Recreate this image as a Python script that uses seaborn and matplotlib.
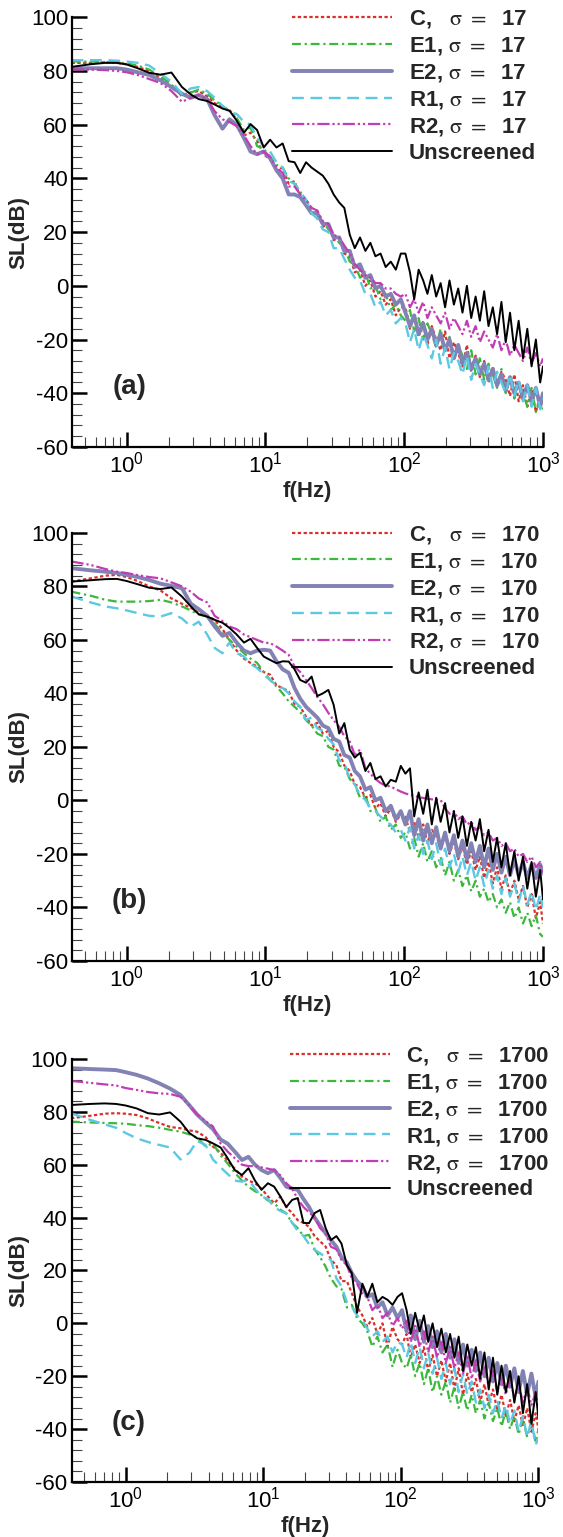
import matplotlib
matplotlib.use("Agg")
import matplotlib.pyplot as plt
import numpy as np
import pandas as pd
import seaborn as sns
from matplotlib.ticker import LogLocator, MultipleLocator, NullFormatter

# ---------------- data ----------------
freq = [0.4, 0.55, 0.7, 0.85, 1.0, 1.2, 1.45, 1.75, 2.1, 2.5,
        2.9, 3.3, 3.8, 4.3, 4.9, 5.5, 6.2, 7.0, 7.8, 8.7,
        9.7, 10.8, 12, 13.3, 14.7, 16.2, 17.8, 19.6, 21.5, 23.6,
        25.9, 28.4, 31, 34, 37, 40.5, 44, 48, 52.5, 57,
        62, 67.5, 73.5, 80, 87, 94.5, 102, 110, 118, 127,
        137, 147, 158, 170, 183, 197, 212, 228, 245, 263,
        283, 304, 327, 351, 377, 405, 435, 467, 502, 539,
        579, 622, 668, 718, 771, 828, 889, 955, 1000]

series_names = ["C", "E1", "E2", "R1", "R2", "Unscreened"]
sigmas = ["17", "170", "1700"]
panel_tags = ["(a)", "(b)", "(c)"]

# panel (a), sigma = 17
a_C = [83, 83, 83.2, 83, 82.5, 81.5, 80, 77.5, 74, 71, 72, 72.5, 70.5, 68, 66.5, 65.5, 62, 56, 57, 54, 49,
       47, 43, 44, 38, 39, 33, 32, 27, 28, 22, 23, 17, 18, 12, 11, 5, 6, 0, 2, -4, -2, -7, -5, -11, -8,
       -8, -16, -11, -19, -13, -22, -15, -20, -24, -17, -27, -21, -25, -30, -22, -32, -26, -34, -28, -36,
       -30, -38, -32, -35, -41, -33, -43, -37, -45, -39, -47, -41, -44]
a_E1 = [83.5, 83.5, 83.3, 83.2, 82.8, 82, 80.5, 78, 75, 70.5, 72, 73, 71.5, 69, 67, 65, 62.5, 58, 59, 52, 51,
        48, 45, 44, 40, 38, 35, 32, 29, 27, 24, 21, 19, 16, 14, 9, 8, 3, 5, -1, 0, -5, -3, -9, -7, -11,
        -13, -9, -17, -12, -20, -14, -18, -23, -16, -25, -19, -27, -22, -26, -31, -24, -33, -27, -35, -29,
        -33, -38, -31, -40, -34, -42, -36, -40, -45, -38, -47, -42, -46]
a_E2 = [81, 81, 81, 81, 80.5, 79.5, 78.5, 76.5, 74, 71.5, 70, 71, 69.5, 63.5, 58.5, 62, 60, 55, 50, 49, 50,
        47.5, 43, 40, 34, 34, 33, 30, 27, 27, 23, 23, 18, 18, 13, 13, 7, 8, 3, 4, -1, 0, -4, -3, -7, -5,
        -10, -15, -11, -18, -14, -20, -16, -22, -18, -24, -20, -27, -22, -29, -25, -31, -27, -33, -29, -35,
        -31, -37, -33, -39, -34, -40, -36, -42, -37, -43, -38, -45, -40]
a_R1 = [84, 84, 84, 83.8, 83.5, 83, 82, 79, 76, 71.5, 73.5, 74, 72.5, 70, 67, 64.5, 64, 61, 60, 55, 52,
        50, 46, 44, 39, 38, 35, 32, 27, 25, 21, 20, 14, 14, 10, 6, 3, 2, -3, -3, -8, -6, -11, -9, -14, -12,
        -14, -21, -16, -24, -18, -22, -27, -20, -29, -23, -31, -25, -28, -33, -26, -35, -29, -33, -37, -30,
        -38, -32, -36, -40, -33, -41, -35, -43, -37, -45, -38, -46, -42]
a_R2 = [80.5, 80.5, 80.3, 80, 79.5, 78.5, 77, 75.5, 72.5, 68.5, 70, 71, 69.5, 65, 62, 61, 59.5, 56, 52, 49, 50,
        48, 44, 42, 37, 37, 34, 32, 29, 28, 24, 23, 19, 18, 15, 12, 8, 6, 4, 3, 1, 1, -1, -1, -3, -4,
        -3, -8, -5, -10, -6, -12, -8, -11, -14, -10, -16, -12, -15, -18, -13, -19, -15, -21, -17, -20,
        -23, -18, -24, -20, -26, -22, -25, -28, -23, -29, -25, -30, -27]
a_U = [81.5, 82.5, 83, 83, 82.4, 81, 79.3, 78.6, 79.4, 74, 71.2, 69.5, 68.8, 67.5, 66, 65.2, 61.5, 57, 60.2, 58, 51.5,
       54.4, 51.5, 53, 46.4, 46, 42, 46, 44, 42.5, 41, 38, 34, 31, 29, 19, 14, 18, 13, 16, 11, 12, 7, 9, 6, 12,
       12, 5, -5, 6, 2, -3, 4, -4, 1, -8, 2, -7, -1, -10, 0, -12, -4, -13, -2, -15,
       -8, -18, -6, -21, -10, -24, -13, -27, -16, -30, -20, -36, -30]

# panel (b), sigma = 170
b_C = [81.8, 83, 84, 84.3, 83.5, 82, 80, 78.5, 75.5, 73.5, 72, 70, 69, 67.5, 64, 60, 56, 53, 51.4, 50, 48,
       47, 43, 42, 40.7, 36, 35, 31.3, 28, 29, 25, 26, 20, 18, 13, 11, 6, 5, 1, 2, -3, -1, -6, -3, -8, -5,
       -6, -12, -8, -14, -9, -16, -11, -13, -18, -12, -20, -15, -22, -17, -24, -19, -26, -21, -29, -23,
       -31, -25, -33, -28, -35, -30, -37, -32, -40, -35, -44, -38, -46]
b_E1 = [78, 76.5, 75, 74.3, 74.3, 74.3, 74.5, 75, 74, 72.5, 71, 69.5, 68.7, 66, 62.6, 60, 57.5, 55, 53, 51.4, 48,
        45, 42.6, 40, 37, 35, 33, 30, 28, 25, 24, 20, 19, 13, 12.6, 8, 6, 1, 2, -4, -3, -8, -6, -11, -9, -14,
        -12, -18, -14, -21, -16, -23, -19, -25, -21, -28, -23, -30, -26, -32, -28, -34, -30, -36, -33, -38,
        -35, -40, -37, -42, -38, -44, -40, -46, -42, -47, -43, -50, -51]
b_E2 = [86.8, 86, 85.5, 85, 84.3, 83.5, 82.4, 81, 80.2, 79.3, 73.5, 71.5, 69, 65, 61.5, 62.6, 59, 56, 55, 56, 56.3,
        56, 52, 49, 47.7, 42, 38, 35, 33, 31, 28, 27, 23, 22, 17, 16, 11, 9, 4, 5, 0, 1, -4, -2, -7, -4,
        -9, -4, -13, -7, -15, -9, -16, -10, -18, -12, -19, -13, -21, -15, -22, -16, -23, -17, -25, -18,
        -26, -20, -27, -21, -28, -22, -28, -23, -29, -24, -29, -24, -27]
b_R1 = [76.2, 74, 72.5, 71.8, 71, 70, 69, 68.7, 70, 68, 65, 66.8, 62, 57, 55, 59, 55, 53.8, 51, 49.5, 47,
        45, 43, 42, 40, 37, 35, 30, 31, 27, 26, 23, 21, 15, 14, 8, 6, 2, 0.2, -3, -4, -6, -8, -9, -12, -11,
        -15, -10, -18, -13, -20, -15, -22, -16, -24, -18, -25, -20, -27, -21, -28, -23, -30, -25, -32, -26,
        -33, -28, -35, -29, -36, -31, -38, -32, -39, -34, -41, -35, -40]
b_R2 = [89.3, 88, 86.5, 85.5, 85, 84.2, 83.5, 83, 81.5, 80, 78, 75.5, 74, 69, 67, 65, 64, 62, 61, 60, 59,
        58.8, 57.5, 56, 54.4, 50, 48, 45, 42, 38.7, 36, 32.7, 30, 27.5, 24, 22, 17, 19, 12, 10, 8, 6.5, 5.5, 5.2, 4.2, 3.3,
        2.6, 2.1, 1.7, 1.3, 0.9, 0.6, 0.4, 0.3, 0.2, -3, -5, -4, -7, -6, -9, -8, -11, -10, -13, -12,
        -15, -14, -17, -16, -19, -18, -21, -20, -23, -21, -25, -23, -28]
b_U = [81.8, 82.3, 82.7, 82.8, 82, 80.8, 79.5, 79, 79.6, 76.2, 72.5, 69.6, 68.7, 67.5, 66.4, 64.5, 62, 59, 60.4, 57, 53.8,
       52.5, 51.3, 52, 51.9, 49, 45, 44, 46.3, 39, 40, 41.3, 35.7, 25, 28.9, 19, 16, 17.8, 11, 14, 8, 9, 5.2, 7.7, 7, 12.9,
       10, 12, -6, 3, -5, 4, -9, 1, -8, -1, -12, -4, -14, -6, -17, -8, -15, -7, -19, -11,
       -23, -14, -25, -16, -28, -19, -30, -21, -33, -23, -36, -26, -37]

# panel (c), sigma = 1700
c_C = [77.6, 78.5, 79.3, 79.5, 79.3, 78.8, 77.5, 75.8, 74.3, 73.8, 73, 72.5, 70.5, 66.9, 64.5, 61.5, 58.5, 55.5, 54, 53, 51,
       48, 45.4, 47.9, 44, 41.7, 39, 38, 36.5, 33, 31, 29, 24, 22, 16, 16, 11.4, 6.3, 3, -1.3, 2, -4, 0, -8.8, -1.3, -6,
       -8, -4, -13, -8, -15, -9, -18, -12, -20, -14, -22, -15, -25, -17, -27, -19, -26, -21, -30, -23,
       -31, -25, -33, -27, -35, -29, -37, -31, -39, -32, -41, -34, -40]
c_E1 = [76.3, 76, 75.8, 75.7, 75.5, 75, 74.6, 74, 73.2, 72.5, 71.5, 70.3, 67, 68, 63.5, 60.5, 57, 54, 51.7, 50, 48.5,
        46.5, 45.5, 43, 41.6, 38, 36, 33, 33.5, 28, 25, 21.4, 17, 14, 13, 6, 7, 2, 0, -3, -8.8, -5, -11, -8, -16.5, -10,
        -15, -17, -12, -20, -15, -23, -17, -26, -20, -27, -22, -30, -24, -32, -26, -33, -27, -34, -29, -36,
        -30, -37, -32, -39, -33, -40, -35, -42, -36, -43, -37, -45, -40]
c_E2 = [96.5, 96.2, 96, 95.8, 95, 94, 92.6, 90.8, 88.8, 86.4, 82.5, 79, 76, 73.5, 69.5, 68, 65, 61.8, 63, 60, 58,
        56.8, 58, 55, 51.7, 51, 50.5, 47, 44, 40, 37, 34, 31.5, 29, 25, 23, 19, 16, 14, 10, 11, 6, 8, 3, 6, 2,
        5, -3, 3, -6, 1, -7, -1, -9, -3, -11, -4, -13, -6, -15, -8, -16, -10, -18, -11, -20,
        -13, -22, -15, -23, -16, -24, -17, -26, -18, -27, -19, -28, -22]
c_R1 = [79.5, 77, 75.3, 74, 72, 70, 68.6, 67.5, 66.5, 62, 64.5, 69, 67.5, 62, 59, 56.5, 54, 53.6, 54.3, 51, 48,
        47, 44, 42.5, 41.6, 38, 35, 33, 30, 27.8, 26.5, 25, 24, 17, 14, 8, 6.3, 3, 1.3, -2, -5, -3, -7, -5, -11, -7,
        -8, -13, -7, -15, -9, -17, -11, -19, -13, -21, -15, -23, -17, -26, -19, -27, -22, -30, -25, -32,
        -27, -34, -29, -36, -31, -38, -33, -41, -35, -43, -37, -46, -43]
c_R2 = [91.7, 91, 90.4, 90, 89, 88.3, 87.5, 87, 86.8, 85.7, 82.5, 79, 76.5, 74.5, 68, 65, 62.5, 60, 59.5, 59.5, 59,
        58.5, 58, 56, 53, 51, 47, 44, 42, 40, 36, 34, 29, 28, 24, 22, 17, 15, 11, 10, 5, 7, 2, 4, -1, 2,
        -2, 1, -7, -1, -9, -3, -11, -5, -13, -7, -15, -9, -17, -11, -19, -12, -21, -14, -22, -16,
        -24, -18, -26, -20, -27, -21, -28, -23, -30, -24, -31, -26, -31]
c_U = [82.6, 83, 83.2, 83, 82.4, 81.3, 79.5, 79, 79.8, 76.3, 72, 70, 69.4, 68.1, 66.5, 62.5, 58, 56.1, 58.7, 54, 50.5,
       53, 51.7, 48, 44, 46.7, 47.4, 38, 37.9, 41.7, 42.9, 36, 31.5, 33, 30.2, 22, 19, 4, 15, 10, 15, 8, 10, 8.9, 7, 10,
       11.4, 5, -4, 4, -3, 3, -7, 0, -9, -2, -11, -4, -13, -5, -18, -8, -16, -9, -21, -11,
       -25, -13, -27, -16, -26, -18, -30, -20, -34, -23, -38, -26, -36]

panel_data = [
    [a_C, a_E1, a_E2, a_R1, a_R2, a_U],
    [b_C, b_E1, b_E2, b_R1, b_R2, b_U],
    [c_C, c_E1, c_E2, c_R1, c_R2, c_U],
]

# ---------------- style ----------------
sns.set_style("white")
plt.rcParams['font.family'] = ['Liberation Sans', 'DejaVu Sans']
plt.rcParams['mathtext.fontset'] = 'stix'
plt.rcParams['axes.unicode_minus'] = False

colors = {"C": "#d9302c", "E1": "#3cb83c", "E2": "#8282b4", "R1": "#5cc8e2",
          "R2": "#c23cb4", "Unscreened": "#000000"}
styles = {"C": (0, (1.5, 1.1)), "E1": (0, (4, 1.7, 1, 1.7)), "E2": "-",
          "R1": (0, (5, 2.8)), "R2": (0, (5.5, 1.3, 1, 1.3, 1, 1.3)), "Unscreened": "-"}
widths = {"C": 1.6, "E1": 1.6, "E2": 2.8, "R1": 1.7, "R2": 1.6, "Unscreened": 1.4}

rects = [
    [0.1284, 0.7092, 0.836, 0.2796],
    [0.1284, 0.3748, 0.836, 0.2785],
    [0.1274, 0.0358, 0.829, 0.2752],
]
legend_y = [1.021, 1.021, 1.033]

fig = plt.figure(figsize=(5.63, 15.37), dpi=100)

for p in range(3):
    ax = fig.add_axes(rects[p])
    sig = sigmas[p]
    labels = []
    for name, vals in zip(series_names, panel_data[p]):
        df = pd.DataFrame({"f": freq, "SL": vals})
        if name == "Unscreened":
            lab = "Unscreened"
        elif name == "C":
            lab = "C,   $\\mathrm{\\sigma\\ =}$  " + sig
        else:
            lab = name + ", $\\mathrm{\\sigma\\ =}$  " + sig
        labels.append(lab)
        sns.lineplot(data=df, x="f", y="SL", ax=ax, color=colors[name],
                     linestyle=styles[name], linewidth=widths[name],
                     label=lab, estimator=None, sort=False)
    ax.set_xscale("log")
    ax.set_xlim(0.405, 1000)
    ax.set_ylim(-60, 100)
    ax.yaxis.set_major_locator(MultipleLocator(20))
    ax.yaxis.set_minor_locator(MultipleLocator(4))
    ax.xaxis.set_major_locator(LogLocator(base=10, numticks=10))
    ax.xaxis.set_minor_locator(LogLocator(base=10, subs=np.arange(2, 10), numticks=20))
    ax.xaxis.set_minor_formatter(NullFormatter())
    for s in ["top", "right"]:
        ax.spines[s].set_visible(False)
    for s in ["left", "bottom"]:
        ax.spines[s].set_linewidth(1.6)
        ax.spines[s].set_color("black")
    ax.tick_params(axis="both", which="major", direction="in", length=11, width=1.8,
                   labelsize=16, colors="black", left=True, bottom=True)
    ax.tick_params(axis="y", which="major", pad=3)
    ax.tick_params(axis="x", which="major", pad=3.5)
    ax.tick_params(axis="both", which="minor", direction="in", length=7, width=0.8,
                   colors="#444444", left=True, bottom=True)
    ax.set_xlabel("f(Hz)", fontsize=16, fontweight="bold", labelpad=2.5)
    ax.set_ylabel("SL(dB)", fontsize=16, fontweight="bold", labelpad=1)
    ax.text(0.121, 0.14, panel_tags[p], transform=ax.transAxes, ha="center", va="center",
            fontsize=20, fontweight="bold")
    handles, _ = ax.get_legend_handles_labels()
    ax.legend(handles, labels, loc="upper left", bbox_to_anchor=(0.467, legend_y[p]),
              frameon=False, prop=dict(weight="bold", size=16), handlelength=4.5,
              handletextpad=0.75, labelspacing=0.22, borderpad=0, borderaxespad=0)

fig.savefig("out.png", dpi=100)
